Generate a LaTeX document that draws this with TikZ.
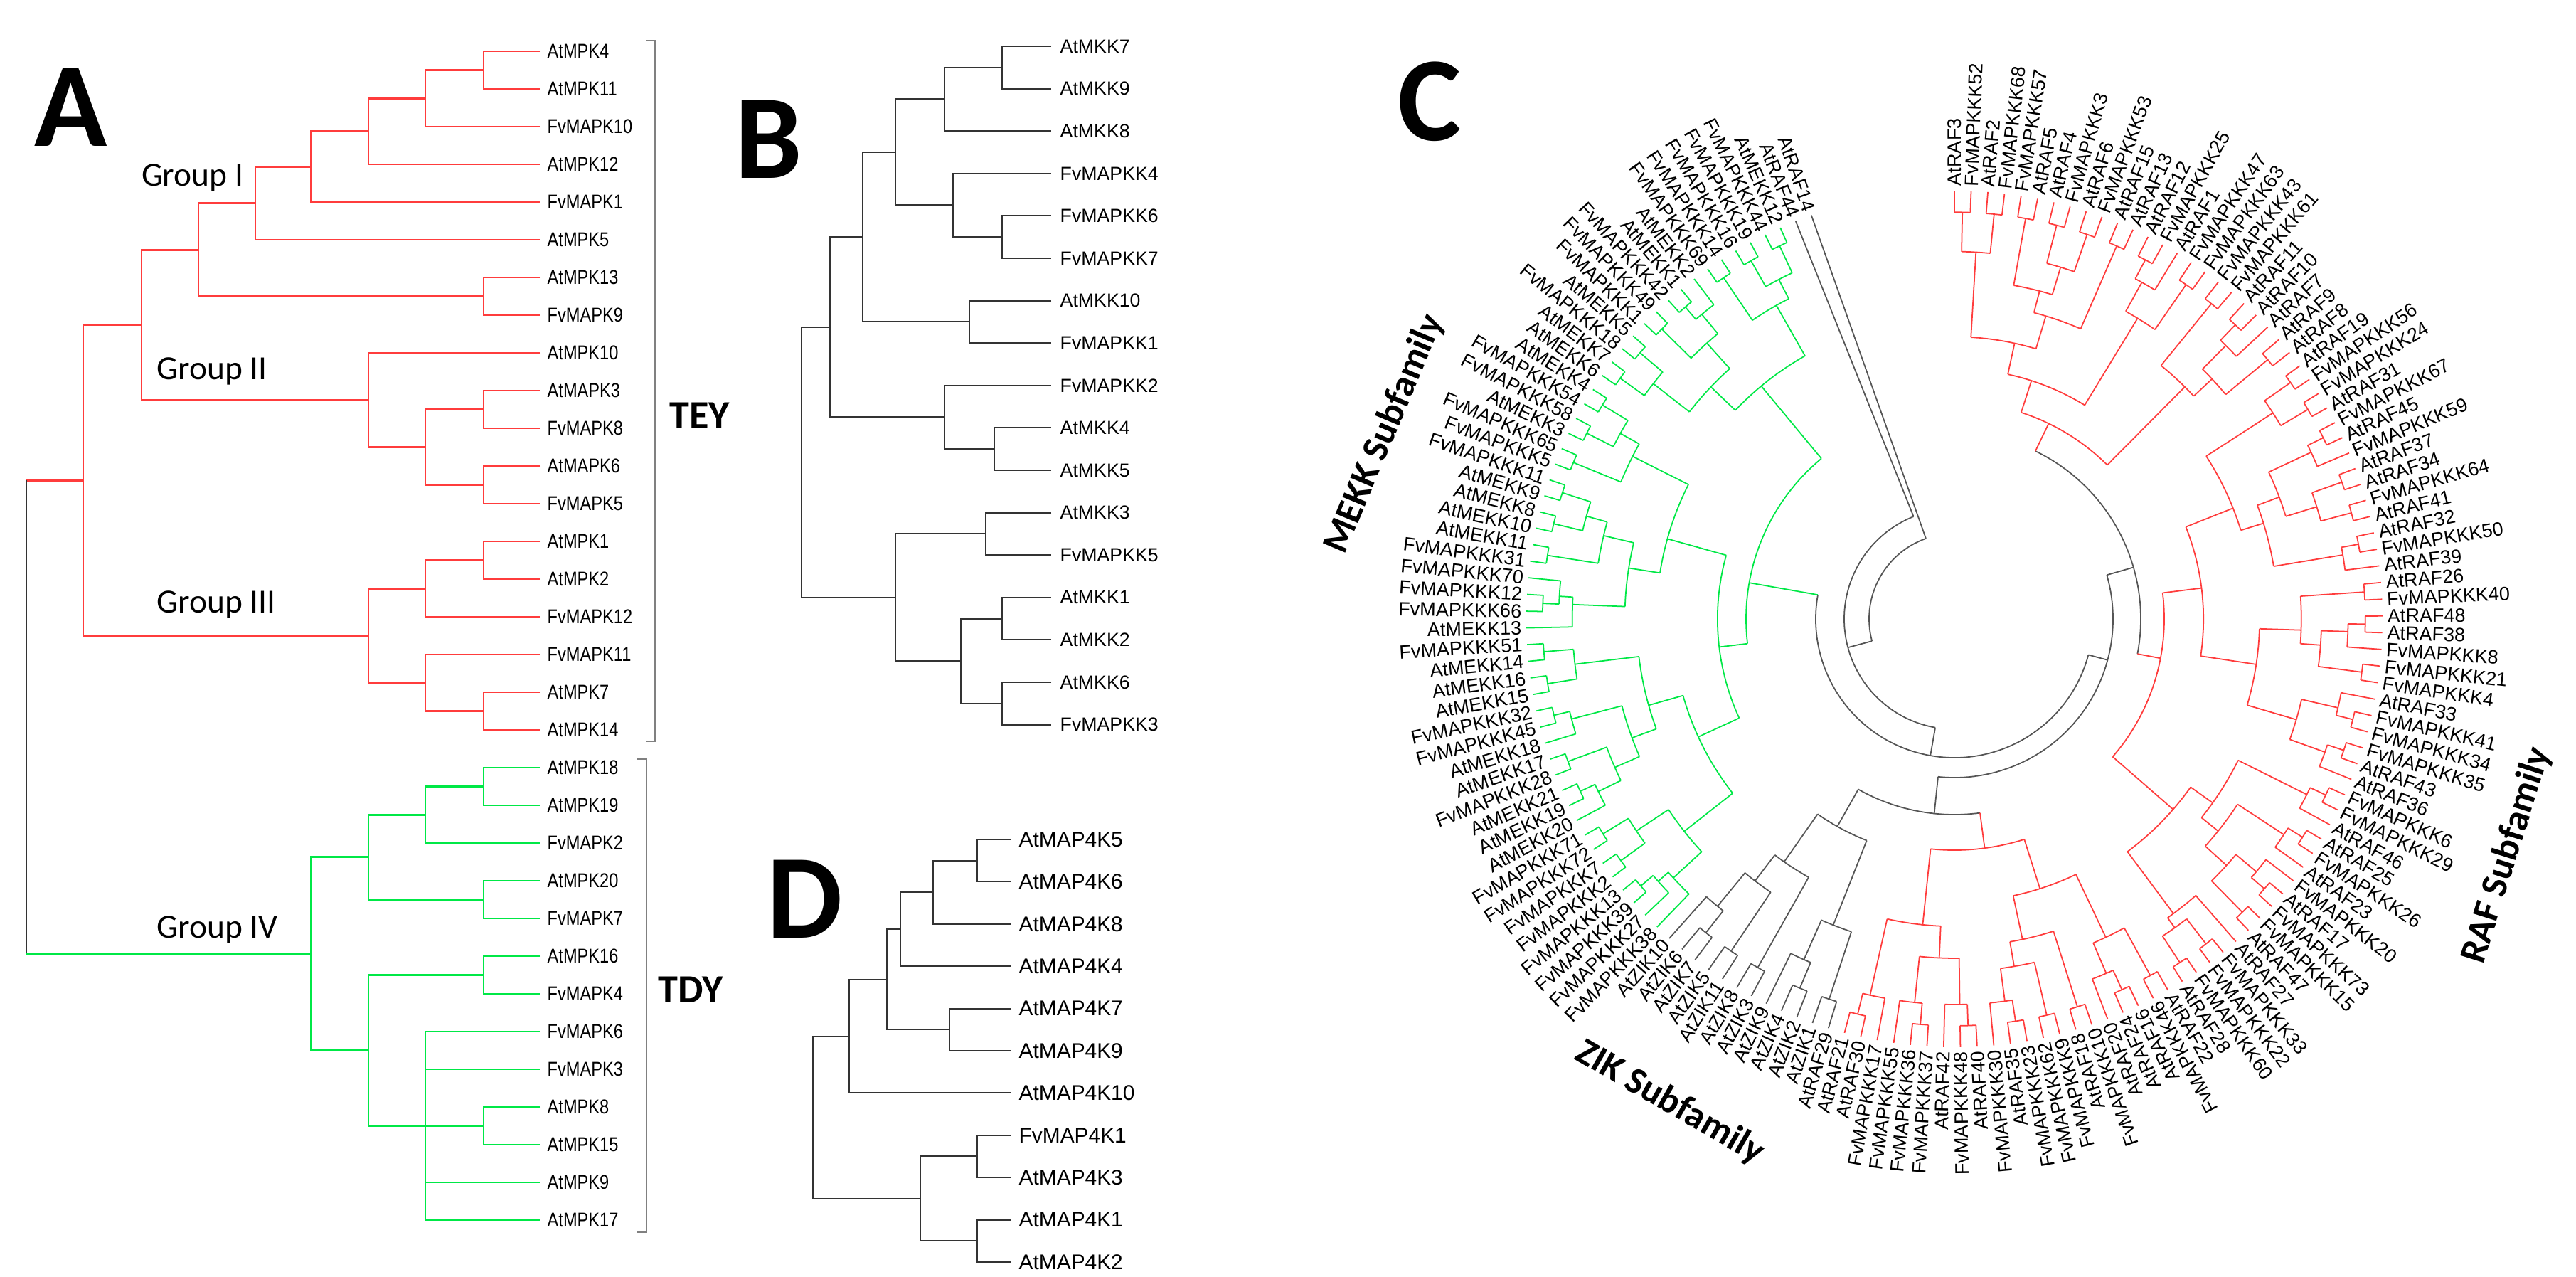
\documentclass[tikz,border=0pt]{standalone}
\usepackage{fontspec}
\setmainfont{Liberation Sans}
\newfontfamily\calfont{Carlito}
\newfontfamily\narrowfont[FakeStretch=0.84]{Liberation Sans}
\usetikzlibrary{calc}

\definecolor{treered}{RGB}{255,60,60}
\definecolor{treegreen}{RGB}{0,232,70}
\definecolor{treegray}{RGB}{85,85,85}

% elbow join of two children at depth x (cm)
\newcommand\joinAt[5][]{%
  \path let \p1=(#4), \p2=(#5) in coordinate (#2) at (#3cm,{0.5*(\y1+\y2)});
  \draw[#1] (#4) -| (#2) |- (#5);}

% circular tree helpers for panel C
\newcommand\Rleaf{6.02}
\newcommand\subtree[4]{%
  \begingroup
  \pgfmathsetmacro\sbFrom{#3}%
  \pgfmathsetmacro\sbNode{#4}%
  \pgfmathtruncatemacro\sbA{#1}%
  \pgfmathtruncatemacro\sbB{#2}%
  \pgfmathsetmacro\sbAng{90-2.24*((\sbA+\sbB)/2-1)}%
  \ifnum\sbA=\sbB\relax
    \draw (\sbAng:\sbFrom) -- (\sbAng:\Rleaf);%
  \else
    \draw (\sbAng:\sbFrom) -- (\sbAng:\sbNode);%
    \pgfmathtruncatemacro\sbN{\sbB-\sbA+1}%
    \pgfmathtruncatemacro\sbIdx{mod(\sbA*3+\sbB,7)}%
    \pgfmathsetmacro\sbFrac{{0.5,0.3,0.62,0.42,0.25,0.55,0.7}[\sbIdx]}%
    \pgfmathtruncatemacro\sbL{max(1,min(\sbN-1,round(\sbN*\sbFrac)))}%
    \pgfmathtruncatemacro\sbM{\sbA+\sbL-1}%
    \pgfmathtruncatemacro\sbMM{\sbM+1}%
    \pgfmathtruncatemacro\sbR{\sbB-\sbM}%
    \pgfmathsetmacro\sbAL{90-2.24*((\sbA+\sbM)/2-1)}%
    \pgfmathsetmacro\sbAR{90-2.24*((\sbMM+\sbB)/2-1)}%
    \draw (\sbAL:\sbNode) arc[start angle=\sbAL, end angle=\sbAR, radius=\sbNode];%
    \pgfmathsetmacro\sbRL{\Rleaf-\sbDep*ln(\sbL)*sqrt(ln(\sbL))}%
    \pgfmathsetmacro\sbRR{\Rleaf-\sbDep*ln(\sbR)*sqrt(ln(\sbR))}%
    \subtree{\sbA}{\sbM}{\sbNode}{\sbRL}%
    \subtree{\sbMM}{\sbB}{\sbNode}{\sbRR}%
  \fi
  \endgroup}
\newcommand\drawclade[5]{%
  \begingroup
  \pgfmathsetmacro\sbDep{(\Rleaf-#4)/(ln(#2-#1+1)*sqrt(ln(#2-#1+1)))}%
  \begin{scope}[color=#5]\subtree{#1}{#2}{#3}{#4}\end{scope}%
  \endgroup}

\begin{document}
\begin{tikzpicture}[
    leafA/.style={font=\narrowfont\fontsize{8}{9}\selectfont, anchor=west, inner sep=0pt},
    leafB/.style={font=\fontsize{7.6}{9}\selectfont, anchor=west, inner sep=0pt},
    leafD/.style={font=\fontsize{8.5}{10}\selectfont, anchor=west, inner sep=0pt},
    leafC/.style={font=\fontsize{7.7}{9}\selectfont, inner sep=0pt},
    grp/.style={font=\calfont\fontsize{13.5}{15}\selectfont, inner sep=0pt},
    panel/.style={font=\calfont\bfseries\fontsize{48}{52}\selectfont, inner sep=0pt},
    motif/.style={font=\calfont\bfseries\fontsize{16}{18}\selectfont, anchor=west, inner sep=0pt},
    family/.style={font=\calfont\bfseries\fontsize{15}{17}\selectfont, inner sep=0pt},
    redline/.style={treered, line width=0.8pt},
    greenline/.style={treegreen, line width=0.8pt},
    blkline/.style={black!80, line width=0.6pt}
]
\useasboundingbox (0,0) rectangle (36.22,-17.94);
\fill[white] (0,0) rectangle (36.22,-17.94);

% ---------- Panel A ----------
\node[panel] (pA) at (1.00,-1.51) {A};
\foreach \n [count=\i] in {AtMPK4,AtMPK11,FvMAPK10,AtMPK12,FvMAPK1,AtMPK5,AtMPK13,FvMAPK9,AtMPK10,AtMAPK3,FvMAPK8,AtMAPK6,FvMAPK5,AtMPK1,AtMPK2,FvMAPK12,FvMAPK11,AtMPK7,AtMPK14,AtMPK18,AtMPK19,FvMAPK2,AtMPK20,FvMAPK7,AtMPK16,FvMAPK4,FvMAPK6,FvMAPK3,AtMPK8,AtMPK15,AtMPK9,AtMPK17}{
  \coordinate (a\i) at (7.59,{-0.72-0.53*(\i-1)});
  \node[leafA] (la\i) at (7.69,{-0.72-0.53*(\i-1)}) {\n};
}
% Group I
\joinAt[redline]{n1}{6.80}{a1}{a2}
\joinAt[redline]{n2}{5.98}{n1}{a3}
\joinAt[redline]{n3}{5.18}{n2}{a4}
\joinAt[redline]{n4}{4.37}{n3}{a5}
\joinAt[redline]{n5}{3.59}{n4}{a6}
\joinAt[redline]{n6}{6.80}{a7}{a8}
\joinAt[redline]{n7}{2.79}{n5}{n6}
% Group II
\joinAt[redline]{n8}{6.80}{a10}{a11}
\joinAt[redline]{n9}{6.80}{a12}{a13}
\joinAt[redline]{n10}{5.98}{n8}{n9}
\joinAt[redline]{n11}{5.18}{a9}{n10}
\joinAt[redline]{n12}{1.99}{n7}{n11}
% Group III
\joinAt[redline]{n13}{6.80}{a14}{a15}
\joinAt[redline]{n14}{5.98}{n13}{a16}
\joinAt[redline]{n15}{6.80}{a18}{a19}
\joinAt[redline]{n16}{5.98}{a17}{n15}
\joinAt[redline]{n17}{5.18}{n14}{n16}
\joinAt[redline]{n18}{1.17}{n12}{n17}
% Group IV
\joinAt[greenline]{n19}{6.80}{a20}{a21}
\joinAt[greenline]{n20}{5.98}{n19}{a22}
\joinAt[greenline]{n21}{6.80}{a23}{a24}
\joinAt[greenline]{n22}{5.18}{n20}{n21}
\joinAt[greenline]{n23}{6.80}{a25}{a26}
\joinAt[greenline]{n24}{6.80}{a29}{a30}
\joinAt[greenline]{n25}{5.98}{a27}{a32}
\draw[greenline] (n25 |- a28) -- (a28);
\draw[greenline] (n25 |- n24) -- (n24);
\draw[greenline] (n25 |- a31) -- (a31);
\joinAt[greenline]{n26}{5.18}{n23}{n25}
\joinAt[greenline]{n27}{4.37}{n22}{n26}
% root
\coordinate (rootx) at (0.37,0);
\draw[redline] (n18) -- (n18 -| rootx);
\draw[blkline, line width=0.8pt] (n18 -| rootx) -- (n27 -| rootx);
\draw[greenline] (n27 -| rootx) -- (n27);

\node[grp, anchor=east] (g1) at (3.43,-2.50) {Group I};
\node[grp, anchor=west] (g2) at (2.20,-5.22) {Group II};
\node[grp, anchor=west] (g3) at (2.20,-8.50) {Group III};
\node[grp, anchor=west] (g4) at (2.20,-13.07) {Group IV};

\draw[gray, line width=0.6pt] (9.09,-0.57) -- (9.21,-0.57) -- (9.21,-10.42) -- (9.09,-10.42);
\draw[gray, line width=0.6pt] (8.96,-10.67) -- (9.09,-10.67) -- (9.09,-17.32) -- (8.96,-17.32);
\node[motif] (tey) at (9.41,-5.84) {TEY};
\node[motif] (tdy) at (9.25,-13.91) {TDY};

% ---------- Panel B ----------
\node[panel] (pB) at (10.81,-1.96) {B};
\foreach \n [count=\i] in {AtMKK7,AtMKK9,AtMKK8,FvMAPKK4,FvMAPKK6,FvMAPKK7,AtMKK10,FvMAPKK1,FvMAPKK2,AtMKK4,AtMKK5,AtMKK3,FvMAPKK5,AtMKK1,AtMKK2,AtMKK6,FvMAPKK3}{
  \coordinate (ba\i) at (14.78,{-0.65-0.596*(\i-1)});
  \node[leafB] (lb\i) at (14.90,{-0.65-0.596*(\i-1)}) {\n};
}
\joinAt[blkline]{b1}{14.09}{ba1}{ba2}
\joinAt[blkline]{b2}{13.28}{b1}{ba3}
\joinAt[blkline]{b3}{14.09}{ba5}{ba6}
\joinAt[blkline]{b4}{13.40}{ba4}{b3}
\joinAt[blkline]{b5}{12.59}{b2}{b4}
\joinAt[blkline]{b6}{13.63}{ba7}{ba8}
\joinAt[blkline]{b7}{12.13}{b5}{b6}
\joinAt[blkline]{b8}{13.98}{ba10}{ba11}
\joinAt[blkline]{b9}{13.28}{ba9}{b8}
\joinAt[blkline]{b10}{11.67}{b7}{b9}
\joinAt[blkline]{b11}{13.86}{ba12}{ba13}
\joinAt[blkline]{b12}{14.09}{ba14}{ba15}
\joinAt[blkline]{b13}{14.09}{ba16}{ba17}
\joinAt[blkline]{b14}{13.51}{b12}{b13}
\joinAt[blkline]{b15}{12.59}{b11}{b14}
\joinAt[blkline]{b16}{11.27}{b10}{b15}

% ---------- Panel D ----------
\node[panel] (pD) at (11.32,-12.64) {D};
\foreach \n [count=\i] in {AtMAP4K5,AtMAP4K6,AtMAP4K8,AtMAP4K4,AtMAP4K7,AtMAP4K9,AtMAP4K10,FvMAP4K1,AtMAP4K3,AtMAP4K1,AtMAP4K2}{
  \coordinate (da\i) at (14.21,{-11.80-0.594*(\i-1)});
  \node[leafD] (ld\i) at (14.32,{-11.80-0.594*(\i-1)}) {\n};
}
\joinAt[blkline]{d1}{13.74}{da1}{da2}
\joinAt[blkline]{d2}{13.12}{d1}{da3}
\joinAt[blkline]{d3}{12.66}{d2}{da4}
\joinAt[blkline]{d4}{13.35}{da5}{da6}
\joinAt[blkline]{d5}{12.47}{d3}{d4}
\joinAt[blkline]{d6}{11.94}{d5}{da7}
\joinAt[blkline]{d7}{13.74}{da8}{da9}
\joinAt[blkline]{d8}{13.74}{da10}{da11}
\joinAt[blkline]{d9}{12.94}{d7}{d8}
\joinAt[blkline]{d10}{11.43}{d6}{d9}

% ---------- Panel C ----------
\node[panel] (pC) at (20.10,-1.43) {C};
\begin{scope}[shift={(27.48,-8.70)}, line width=0.5pt]
  % backbone
  \begin{scope}[color=treegray]
    \draw (-250.48:1.20) arc[start angle=-250.48, end angle=-165, radius=1.20];
    \draw (-250.48:1.20) -- (-250.48:\Rleaf);
    \draw (-165:1.20) -- (-165:1.55);
    \draw (-248.24:1.55) arc[start angle=-248.24, end angle=-100, radius=1.55];
    \draw (-248.24:1.55) -- (-248.24:\Rleaf);
    \draw (-100:1.55) -- (-100:1.95);
    \draw (-190:1.95) arc[start angle=-190, end angle=-15, radius=1.95];
    \draw (-15:1.95) -- (-15:2.23);
    \draw (-95.92:2.23) arc[start angle=-95.92, end angle=16.08, radius=2.23];
    \draw (16.08:2.23) -- (16.08:2.62);
    \draw (-10.8:2.62) arc[start angle=-10.8, end angle=64.24, radius=2.62];
    \draw (-95.92:2.23) -- (-95.92:2.75);
    \draw (-119.44:2.75) arc[start angle=-119.44, end angle=-82.48, radius=2.75];
  \end{scope}
  \drawclade{101}{151}{1.95}{2.93}{treegreen}
  \drawclade{1}{24}{2.62}{3.05}{treered}
  \drawclade{25}{67}{2.62}{2.95}{treered}
  \drawclade{89}{100}{2.75}{3.35}{treegray}
  \drawclade{68}{88}{2.75}{3.25}{treered}
  % leaf labels
  \foreach \lab [count=\i] in {AtRAF3,FvMAPKKK52,AtRAF2,FvMAPKKK68,FvMAPKKK57,AtRAF5,AtRAF4,FvMAPKKK3,AtRAF6,FvMAPKKK53,AtRAF15,AtRAF13,AtRAF12,FvMAPKKK25,AtRAF1,FvMAPKKK47,FvMAPKKK63,FvMAPKKK43,FvMAPKKK61,AtRAF11,AtRAF10,AtRAF7,AtRAF9,AtRAF8,AtRAF19,FvMAPKKK56,FvMAPKKK24,AtRAF31,FvMAPKKK67,AtRAF45,FvMAPKKK59,AtRAF37,AtRAF34,FvMAPKKK64,AtRAF41,AtRAF32,FvMAPKKK50,AtRAF39,AtRAF26,FvMAPKKK40,AtRAF48,AtRAF38,FvMAPKKK8,FvMAPKKK21,FvMAPKKK4,AtRAF33,FvMAPKKK41,FvMAPKKK34,FvMAPKKK35,AtRAF43,AtRAF36,FvMAPKKK6,FvMAPKKK29,AtRAF46,AtRAF25,FvMAPKKK26,AtRAF23,FvMAPKKK20,AtRAF17,FvMAPKKK73,FvMAPKKK15,AtRAF47,AtRAF27,FvMAPKKK33,FvMAPKKK22,FvMAPKKK60,AtRAF28,AtRAF22,FvMAPKKK46,AtRAF16,AtRAF24,AtRAF20,FvMAPKKK10,AtRAF18,FvMAPKKK9,FvMAPKKK62,FvMAPKKK23,AtRAF35,FvMAPKKK30,AtRAF40,FvMAPKKK48,AtRAF42,FvMAPKKK37,FvMAPKKK36,FvMAPKKK55,FvMAPKKK17,AtRAF30,AtRAF21,AtRAF29,AtZIK1,AtZIK2,AtZIK4,AtZIK9,AtZIK3,AtZIK8,AtZIK11,AtZIK5,AtZIK7,AtZIK6,AtZIK10,FvMAPKKK38,FvMAPKKK27,FvMAPKKK39,FvMAPKKK13,FvMAPKKK2,FvMAPKKK7,FvMAPKKK72,FvMAPKKK71,AtMEKK20,AtMEKK19,AtMEKK21,FvMAPKKK28,AtMEKK17,AtMEKK18,FvMAPKKK45,FvMAPKKK32,AtMEKK15,AtMEKK16,AtMEKK14,FvMAPKKK51,AtMEKK13,FvMAPKKK66,FvMAPKKK12,FvMAPKKK70,FvMAPKKK31,AtMEKK11,AtMEKK10,AtMEKK8,AtMEKK9,FvMAPKKK11,FvMAPKKK5,FvMAPKKK65,AtMEKK3,FvMAPKKK58,FvMAPKKK54,AtMEKK4,AtMEKK6,AtMEKK7,FvMAPKKK18,AtMEKK5,FvMAPKKK1,FvMAPKKK49,FvMAPKKK42,AtMEKK1,AtMEKK2,FvMAPKKK69,FvMAPKKK14,FvMAPKKK16,FvMAPKKK19,FvMAPKKK44,AtMEKK12,AtRAF44,AtRAF14}{
    \pgfmathsetmacro\ang{90-2.24*(\i-1)}
    \ifnum\i<69
      \node[leafC, anchor=west, rotate=\ang] (lc\i) at (\ang:6.08) {\lab};
    \else
      \node[leafC, anchor=east, rotate=\ang+180] (lc\i) at (\ang:6.08) {\lab};
    \fi
  }
\end{scope}
\node[family, rotate=67.2] (mekk) at (19.47,-6.10) {MEKK Subfamily};
\node[family, rotate=72.5] (raf) at (35.25,-12.02) {RAF Subfamily};
\node[family, rotate=-30] (zik) at (23.48,-15.50) {ZIK Subfamily};

\end{tikzpicture}
\end{document}
